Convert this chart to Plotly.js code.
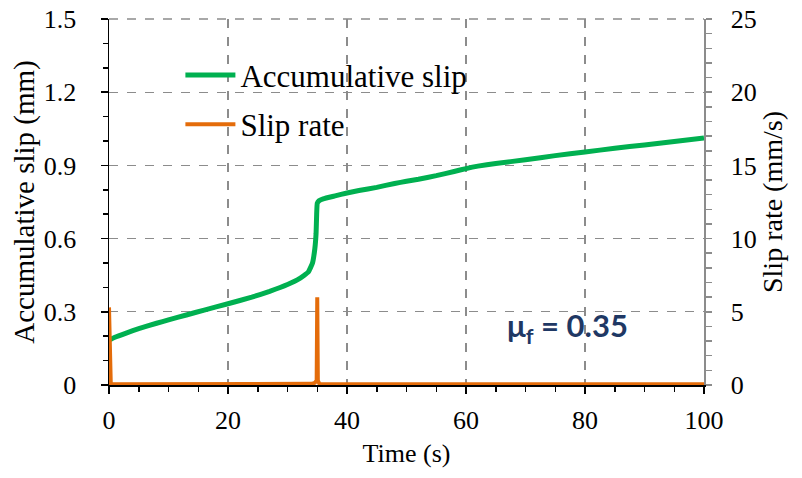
<!DOCTYPE html>
<html>
<head>
<meta charset="utf-8">
<script src="https://cdn.plot.ly/plotly-3.0.1.min.js"></script>
<style>html,body{margin:0;padding:0;background:#fff;}#chart{width:802px;height:478px;}</style>
</head>
<body>
<div id="chart"></div>
<script>
// Accumulative slip (mm) vs time (s)
const slipTime = [0, 1, 3, 5, 8, 10, 13, 16, 20, 24, 27, 30, 32, 33.5, 34.2, 34.6, 34.8, 34.9, 35.0, 35.3, 36, 38, 40, 42, 45, 48, 50, 52, 55, 58, 60, 62, 65, 70, 75, 80, 85, 90, 95, 100];
const slipValue = [0.184, 0.196, 0.214, 0.231, 0.253, 0.267, 0.287, 0.307, 0.333, 0.36, 0.384, 0.412, 0.436, 0.463, 0.5, 0.56, 0.62, 0.7, 0.745, 0.755, 0.763, 0.775, 0.787, 0.797, 0.81, 0.826, 0.835, 0.843, 0.858, 0.875, 0.887, 0.897, 0.908, 0.923, 0.94, 0.955, 0.97, 0.984, 0.998, 1.012];
// Slip rate (mm/s) vs time (s)
const rateTime = [0, 0, 0.3, 14.5, 15, 15.5, 34.0, 34.6, 34.9, 35.0, 35.1, 35.4, 100];
const rateValue = [0, 5.3, 0.05, 0.05, 0.1, 0.05, 0.08, 0.15, 0.3, 6.0, 0.3, 0.05, 0.05];

const serif = 'Liberation Serif';
const gridCol = '#8c8c8c';
const tickFont = {family: serif, size: 26, color: '#000'};

const traces = [
  {x: slipTime, y: slipValue, name: 'Accumulative slip', type: 'scatter', mode: 'lines',
   line: {color: '#00B050', width: 5, shape: 'spline', smoothing: 0.3}, legendgroup: 'a', xaxis: 'x', yaxis: 'y'},
  {x: rateTime, y: rateValue, name: 'Slip rate', type: 'scatter', mode: 'lines',
   line: {color: '#E46C0A', width: 4}, legendgroup: 'b', xaxis: 'x', yaxis: 'y2'}
];

const layout = {
  width: 802, height: 478,
  margin: {l: 109, r: 98, t: 19, b: 93},
  paper_bgcolor: '#fff', plot_bgcolor: '#fff',
  font: {family: serif, size: 26, color: '#000'},
  showlegend: true,
  legend: {x: 0.12, y: 0.92, xanchor: 'left', yanchor: 'top', bgcolor: 'rgba(0,0,0,0)',
           itemwidth: 50, font: {family: serif, size: 31, color: '#000'}, tracegroupgap: 6},
  xaxis: {
    range: [0, 100], dtick: 20, tick0: 0,
    showline: true, linecolor: '#000', linewidth: 1.5,
    ticks: 'outside', ticklen: 7, tickcolor: '#000', tickwidth: 1.5,
    showgrid: true, gridcolor: gridCol, griddash: 'dash', gridwidth: 1.3,
    zeroline: false, ticklabelstandoff: 4,
    minor: {dtick: 5, ticks: 'outside', ticklen: 5, tickcolor: '#000', showgrid: false},
    title: {text: 'Time (s)', font: {family: serif, size: 26}, standoff: 10},
    tickfont: tickFont
  },
  yaxis: {
    range: [0, 1.5], dtick: 0.3, tick0: 0,
    showline: true, linecolor: '#000', linewidth: 1.5,
    ticks: 'outside', ticklen: 7, tickcolor: '#000', tickwidth: 1.5,
    showgrid: true, gridcolor: gridCol, griddash: 'dash', gridwidth: 1.3,
    zeroline: false, ticklabelstandoff: 19,
    minor: {dtick: 0.1, ticks: 'outside', ticklen: 5, tickcolor: '#000', showgrid: false},
    title: {text: 'Accumulative slip (mm)', font: {family: serif, size: 29}, standoff: 0},
    tickfont: tickFont
  },
  yaxis2: {
    range: [0, 25], dtick: 5, tick0: 0, overlaying: 'y', side: 'right',
    showline: true, linecolor: gridCol, linewidth: 1.5,
    ticks: 'outside', ticklen: 6, tickcolor: gridCol, tickwidth: 1.5,
    showgrid: false, zeroline: false, ticklabelstandoff: 14,
    minor: {dtick: 1, ticks: 'outside', ticklen: 6, tickcolor: gridCol, showgrid: false},
    title: {text: 'Slip rate (mm/s)', font: {family: serif, size: 28}, standoff: 6},
    tickfont: tickFont
  },
  shapes: [
    {type: 'line', xref: 'paper', yref: 'paper', x0: 0, x1: 1, y0: 1, y1: 1,
     line: {color: gridCol, width: 1.3, dash: 'dash'}}
  ],
  annotations: [
    {x: 77, y: 0.234, xref: 'x', yref: 'y', showarrow: false,
     text: '<b>μ<sub>f</sub> = 0.35</b>',
     font: {family: 'Lato', size: 31, color: '#1F3864'}}
  ]
};

Plotly.newPlot('chart', traces, layout, {displayModeBar: false, staticPlot: true});
</script>
</body>
</html>
